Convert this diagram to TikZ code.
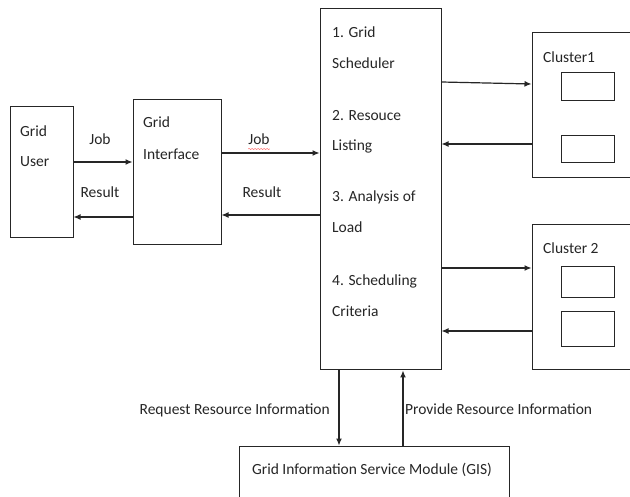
\documentclass[tikz,border=0pt]{standalone}
\usepackage{fontspec}
\setmainfont{Carlito}
\usetikzlibrary{arrows.meta,decorations.pathmorphing}
\tikzset{
	box/.style={draw=black!85, line width=1pt, inner sep=0pt},
	txt/.style={inner sep=0pt, font=\fontsize{15.5}{18}\selectfont, text=black!85},
	arr/.style={line width=1.2pt, draw=black!85, -{Latex[length=7pt,width=6pt]}}
}

\begin{document}
\begin{tikzpicture}[x=1pt, y=-1pt]
			%%%%% START %%%%%
			
			\clip (0, 0) rectangle (630, 497);
			\fill[white] (0, 0) rectangle (630, 497);
			
			% boxes
			\node[box, minimum width=63, minimum height=131] (user) at (41.5, 172.5) {};
			\node[box, minimum width=88, minimum height=145] (iface) at (177, 172.5) {};
			\node[box, minimum width=121, minimum height=361] (sched) at (380.5, 189.5) {};
			\node[box, minimum width=120, minimum height=145] (cl1) at (592, 105.5) {};
			\node[box, minimum width=120, minimum height=145] (cl2) at (592, 297.5) {};
			\node[box, minimum width=270, minimum height=80] (gis) at (374, 486) {};
			
			% nodes inside the clusters
			\node[box, minimum width=53, minimum height=28] (cl1a) at (587.5, 87) {};
			\node[box, minimum width=53, minimum height=27] (cl1b) at (587.5, 149.5) {};
			\node[box, minimum width=53, minimum height=31] (cl2a) at (587.5, 282.5) {};
			\node[box, minimum width=53, minimum height=35] (cl2b) at (587.5, 329.5) {};
			
			% box texts
			\node[txt, anchor=base west] (userA) at (20, 137) {Grid};
			\node[txt, anchor=base west] (userB) at (20, 167) {User};
			\node[txt, anchor=base west] (ifaceA) at (143, 128) {Grid};
			\node[txt, anchor=base west] (ifaceB) at (143, 160) {Interface};
			
			\node[txt, anchor=base west] (step1a) at (332, 38) {1. Grid};
			\node[txt, anchor=base west] (step1b) at (332, 69) {Scheduler};
			\node[txt, anchor=base west] (step2a) at (332, 121) {2. Resouce};
			\node[txt, anchor=base west] (step2b) at (332, 151) {Listing};
			\node[txt, anchor=base west] (step3a) at (332, 202) {3. Analysis of};
			\node[txt, anchor=base west] (step3b) at (332, 233) {Load};
			\node[txt, anchor=base west] (step4a) at (332, 286) {4. Scheduling};
			\node[txt, anchor=base west] (step4b) at (332, 317) {Criteria};
			
			\node[txt, anchor=base west] (cl1name) at (543, 63) {Cluster1};
			\node[txt, anchor=base west] (cl2name) at (543, 254) {Cluster 2};
			\node[txt, anchor=base] (gisname) at (372, 474) {Grid Information Service Module (GIS)};
			
			% arrow labels
			\node[txt, anchor=base] (job1) at (100, 145) {Job};
			\node[txt, anchor=base] (res1) at (100, 198) {Result};
			\node[txt, anchor=base] (job2) at (259, 145) {Job};
			\node[txt, anchor=base] (res2) at (262, 198) {Result};
			\node[txt, anchor=base east] (req) at (330, 414) {Request Resource Information};
			\node[txt, anchor=base west] (prov) at (405, 414) {Provide Resource Information};
			
			\draw[red!55, line width=0.5pt, decorate, decoration={snake, amplitude=0.6pt, segment length=3pt}]
				([yshift=-4pt]job2.base west) -- ([yshift=-4pt]job2.base east);
			
			% connectors
			\draw[arr] (user.east |- 0, 162) -- (iface.west |- 0, 162);
			\draw[arr] (iface.west |- 0, 217) -- (user.east |- 0, 217);
			\draw[arr] (iface.east |- 0, 153) -- (sched.west |- 0, 153);
			\draw[arr] (sched.west |- 0, 215) -- (iface.east |- 0, 215);
			
			\draw[arr] (sched.east |- 0, 82) -- (cl1.west |- 0, 84);
			\draw[arr] (cl1.west |- 0, 144) -- (sched.east |- 0, 144);
			\draw[arr] (sched.east |- 0, 268) -- (cl2.west |- 0, 268);
			\draw[arr] (cl2.west |- 0, 331) -- (sched.east |- 0, 331);
			
			\draw[arr] (sched.south -| 339, 0) -- (gis.north -| 339, 0);
			\draw[arr] (gis.north -| 403, 0) -- (sched.south -| 403, 0);
			
			%%%%% END %%%%%
\end{tikzpicture}
\end{document}
